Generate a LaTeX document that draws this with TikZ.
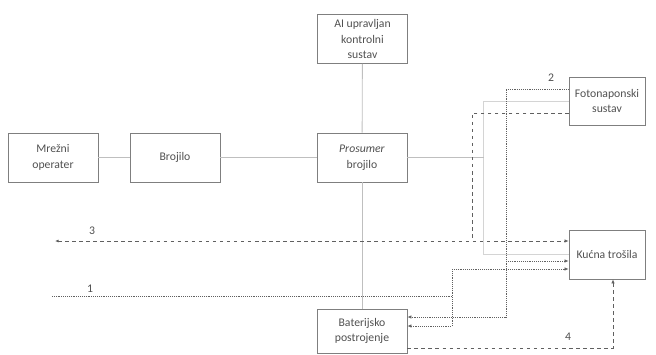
\documentclass[tikz,border=0pt]{standalone}
\usepackage{fontspec}
\setmainfont{Carlito}
\usepackage{tikz}
\usetikzlibrary{arrows.meta}

\definecolor{boxline}{HTML}{7F7F7F}
\definecolor{boxtext}{HTML}{505050}
\definecolor{wire}{HTML}{BFBFBF}
\definecolor{pvwire}{HTML}{D4D4D4}
\definecolor{flowline}{HTML}{606060}

\begin{document}
\begin{tikzpicture}[
  x=0.03cm, y=-0.03cm,
  font=\fontsize{10}{13.5}\selectfont, text=boxtext,
  unit/.style={rectangle, draw=boxline, line width=0.6pt, align=center,
    minimum width=2.7cm, minimum height=1.47cm, inner sep=1pt},
  wire/.style={draw=wire, line width=0.7pt},
  pvwire/.style={draw=pvwire, line width=0.7pt},
  flow/.style={draw=flowline, line width=0.6pt},
  tip/.style={-{Latex[length=3.5pt,width=3pt]}},
  numlabel/.style={inner sep=1pt, text=boxtext},
]
\useasboundingbox (0,0) rectangle (656,354);

\node[unit] (grid) at (53,157.5) {Mrežni\\operater};
\node[unit] (meter) at (175,157.5) {Brojilo};
\node[unit] (prosumer) at (362,157.5) {\textit{Prosumer}\\brojilo};
\node[unit] (ai) at (362.5,39) {AI upravljan\\kontrolni\\sustav};
\node[unit, minimum width=2.28cm, minimum height=1.44cm] (pv) at (607,101) {Fotonaponski\\sustav};
\node[unit, minimum width=2.28cm] (loads) at (607,254.5) {Kućna trošila};
\node[unit, minimum height=1.32cm] (battery) at (362,331) {Baterijsko\\postrojenje};

% solid connections
\draw[wire] (grid) -- (meter);
\draw[wire] (meter) -- (prosumer);
\draw[wire] (ai) -- (prosumer);
\draw[wire] (prosumer) -- (battery);
\coordinate (bus) at (484,157.5);
\draw[pvwire] (pv.west) -- ++(-85,0) |- (loads.west);
\draw[wire] (prosumer) -- (bus);

% flow 3
\coordinate (g3) at (55,241);
\draw[flow, dashed, {Latex[length=3pt,width=2.5pt]}-{Latex[length=3.5pt,width=3pt]}] (g3) -- (loads.west |- g3);
\draw[flow, dashed] (pv.west |- 0,113) -| (472,241);
\node[numlabel] (n3) at (92,231) {3};

% flow 2
\draw[flow, densely dotted, tip] (pv.west |- 0,89) -| (506,317) -- (battery.east |- 0,317);
\draw[flow, densely dotted, tip] (506,261) -- (loads.west |- 0,261);
\node[numlabel] (n2) at (551,78) {2};

% flow 1
\coordinate (g1) at (52,296);
\draw[flow, densely dotted] (g1) -- (452,296);
\draw[flow, densely dotted, tip] (452,269) -- (loads.west |- 0,269);
\draw[flow, densely dotted, tip] (452,269) -- (452,326) -- (battery.east |- 0,326);
\node[numlabel] (n1) at (90,289) {1};

% flow 4
\draw[flow, dashed, tip] (battery.east |- 0,348) -| (loads.south -| 613,0);
\node[numlabel] (n4) at (568,337) {4};
\end{tikzpicture}
\end{document}
